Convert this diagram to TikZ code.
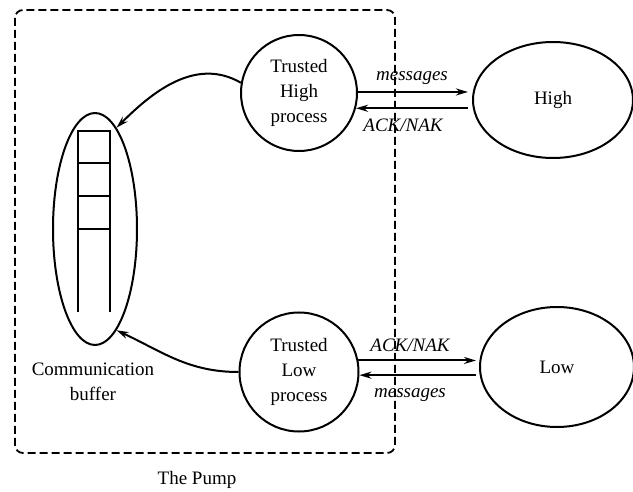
\documentclass[tikz,border=0pt]{standalone}
\usepackage{fontspec}
\setmainfont{Liberation Serif}
\usetikzlibrary{arrows.meta,shapes.geometric,calc}
\begin{document}
\begin{tikzpicture}[x=1pt,y=-1pt,
  txt/.style={font=\fontsize{19}{25}\selectfont, align=center, inner sep=0pt},
  lbl/.style={font=\fontsize{19}{25}\selectfont\itshape, inner sep=0pt},
  proc/.style={circle, draw, line width=2pt, minimum size=116pt, inner sep=0pt, txt},
  ext/.style={ellipse, draw, line width=2pt, inner sep=0pt, txt},
  arr/.style={line width=2pt, -{Stealth[length=12pt,width=7pt]}},
  pump/.style={dash pattern=on 8pt off 4pt, line width=1.8pt, rounded corners=8pt}]
\useasboundingbox (0,0) rectangle (633,492);
% pump boundary
\draw[pump] (15,10) rectangle (395,453);
% nodes
\node[proc] (tH) at (299,93) {Trusted\\High\\process};
\node[proc, minimum size=119pt] (tL) at (299,372) {Trusted\\Low\\process};
\node[ext, minimum width=160pt, minimum height=116pt] (High) at (553,100) {High};
\node[ext, minimum width=154pt, minimum height=120pt] (Low) at (557,367) {Low};
\node[ellipse, draw, line width=2pt, minimum width=84pt, minimum height=232pt, inner sep=0pt] (buf) at (95,229) {};
\node[txt] (buflbl) at (93,382) {Communication\\buffer};
\node[txt] (pumplbl) at (197,480) {The Pump};
% buffer stack
\draw[line width=1.7pt] (78,312) -- (78,131) -- (110,131) -- (110,312);
\foreach \yy in {163,196,229} \draw[line width=1.7pt] (78,\yy) -- (110,\yy);
% curved arrows
\draw[arr] (tH.170) to[out=150,in=45] (buf.78);
\draw[arr] (tL.180) to[out=180,in=-25] (buf.-78);
% high link
\draw[arr, shorten >=4pt] (tH.1) -- (tH.1 -| High.west);
\draw[arr, shorten <=4pt] (tH.-15 -| High.west) -- (tH.-15);
\node[lbl] (mH) at (412,78) {messages};
\node[lbl] (aH) at (403,125) {ACK/NAK};
% low link
\draw[arr, shorten >=3pt] (tL.11) -- (tL.11 -| Low.west);
\draw[arr, shorten <=3pt] (tL.-3 -| Low.west) -- (tL.-3);
\node[lbl] (aL) at (410,345) {ACK/NAK};
\node[lbl] (mL) at (410,395) {messages};
\end{tikzpicture}
\end{document}
